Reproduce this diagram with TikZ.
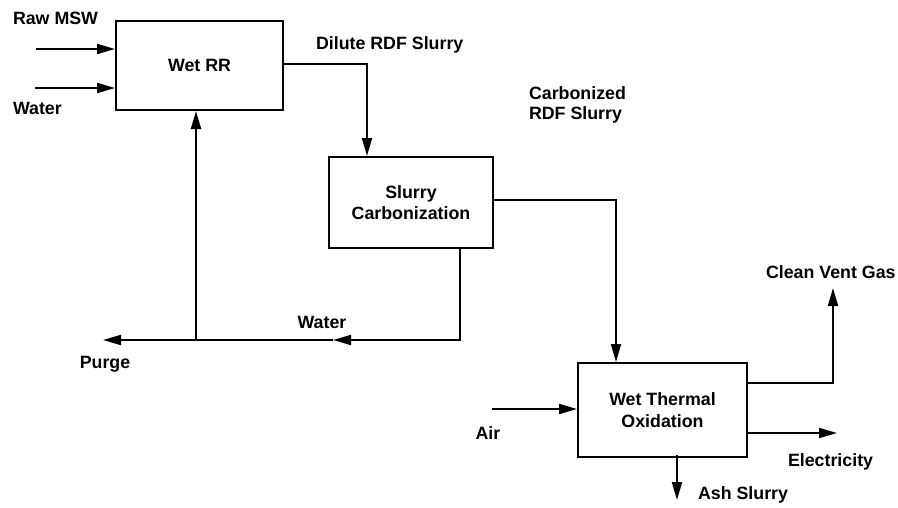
\documentclass[tikz,border=0pt]{standalone}
\usepackage{fontspec}
\setmainfont{Liberation Sans}
\usetikzlibrary{arrows.meta}
\begin{document}
\begin{tikzpicture}[x=1pt,y=-1pt, line width=2pt,
  box/.style={draw, rectangle, align=center, inner sep=0pt, font=\bfseries\fontsize{17.8}{21.5}\selectfont},
  lbl/.style={inner sep=0pt, font=\bfseries\fontsize{17.8}{20}\selectfont, align=left},
  arr/.style={-{Triangle[length=18pt,width=10pt]}}]
\useasboundingbox (0,0) rectangle (898,507);
% boxes
\node[box, minimum width=167pt, minimum height=89pt] (wetrr) at (199.5,65.5) {Wet RR};
\node[box, minimum width=164pt, minimum height=91pt] (sc) at (411,202.5) {Slurry\\Carbonization};
\node[box, minimum width=169pt, minimum height=94pt] (wto) at (662.5,410) {Wet Thermal\\Oxidation};
% labels
\node[lbl, anchor=west] (lmsw) at (12,18) {Raw MSW};
\node[lbl, anchor=west] (lwater1) at (12,108) {Water};
\node[lbl, anchor=west] (ldil) at (315,45) {Dilute RDF Slurry};
\node[lbl, anchor=north west] (lcarb) at (528,86) {Carbonized\\RDF Slurry};
\node[lbl] (lwater2) at (322,322) {Water};
\node[lbl] (lpurge) at (105,364) {Purge};
\node[lbl] (lair) at (488,433) {Air};
\node[lbl, anchor=west] (lvent) at (765,272) {Clean Vent Gas};
\node[lbl, anchor=west] (lelec) at (787,462) {Electricity};
\node[lbl, anchor=west] (lash) at (697,495) {Ash Slurry};
% coordinates
\coordinate (msw0) at (36,49);
\coordinate (wat0) at (35,88);
\coordinate (d1) at (283,64);
\coordinate (d2) at (367,64);
\coordinate (c1) at (493,200);
\coordinate (c2) at (616,200);
\coordinate (w1) at (460,247.5);
\coordinate (w2) at (460,340);
\coordinate (wm) at (333,340);
\coordinate (wj) at (196,340);
\coordinate (wp) at (103,340);
\coordinate (air0) at (492,409);
\coordinate (v1) at (747,383);
\coordinate (v2) at (833,383);
\coordinate (v3) at (833,288);
\coordinate (e1) at (747,433);
\coordinate (e2) at (837,433);
\coordinate (a1) at (677,455);
\coordinate (a2) at (677,500);
% connectors
\draw[arr] (msw0) -- (msw0 -| wetrr.west);
\draw[arr] (wat0) -- (wat0 -| wetrr.west);
\draw[arr] (d1) -- (d2) -- (d2 |- sc.north);
\draw[arr] (c1) -- (c2) -- (c2 |- wto.north);
\draw[arr] (w1) -- (w2) -- (wm);
\draw[arr] (wm) -- (wp);
\draw[arr] (wj) -- (wj |- wetrr.south);
\draw[arr] (air0) -- (air0 -| wto.west);
\draw[arr] (v1) -- (v2) -- (v3);
\draw[arr] (e1) -- (e2);
\draw[arr] (a1) -- (a2);
\end{tikzpicture}
\end{document}
